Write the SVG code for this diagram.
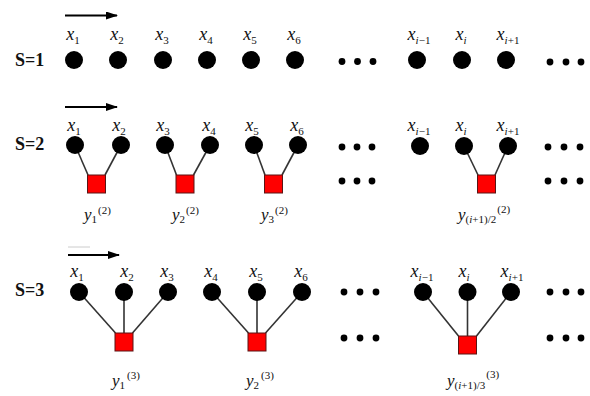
<svg xmlns="http://www.w3.org/2000/svg" width="590" height="396" viewBox="0 0 590 396">
  <defs>
    <style>
      .v { font-family: "Liberation Serif", "Times New Roman", serif; font-style: italic; font-size: 18px; fill: #111; }
      .yl { font-family: "Liberation Serif", "Times New Roman", serif; font-style: italic; font-size: 17px; fill: #111; }
      .sb { font-style: normal; font-size: 11px; }
      .it { font-style: italic; }
      .s { font-family: "Liberation Serif", "Times New Roman", serif; font-weight: bold; font-size: 18px; fill: #111; }
      .n { fill: #000; }
      .d { fill: #000; }
      .f { fill: #ff0000; stroke: #5a1414; stroke-width: 1; }
      .e { stroke: #333; stroke-width: 1.6; fill: none; }
      .arr { stroke: #000; stroke-width: 1.8; fill: none; marker-end: url(#head); }
    </style>
    <marker id="head" viewBox="0 0 12 8" refX="11" refY="4" markerWidth="12" markerHeight="8" markerUnits="userSpaceOnUse" orient="auto">
      <path d="M0,0 L12,4 L0,8 Z" fill="#000"/>
    </marker>
  </defs>
  <rect width="590" height="396" fill="#fff"/>

  <!-- direction arrows -->
  <g id="arrows">
    <line class="arr" x1="65" y1="15.5" x2="117" y2="15.5"/>
    <line class="arr" x1="65" y1="107" x2="117" y2="107"/>
    <line x1="68" y1="247" x2="90" y2="247" stroke="#ccc" stroke-width="1"/>
    <line class="arr" x1="68" y1="255" x2="119" y2="255"/>
  </g>

  <!-- row labels -->
  <g id="rowlabels">
    <text class="s" x="15" y="66">S=1</text>
    <text class="s" x="15" y="150">S=2</text>
    <text class="s" x="15" y="296">S=3</text>
  </g>

  <!-- connectors: variable nodes to check squares -->
  <g id="connectors">
    <line class="e" x1="75" y1="145" x2="88" y2="175"/>
    <line class="e" x1="121" y1="145" x2="105" y2="175"/>
    <line class="e" x1="165" y1="145" x2="176.5" y2="175"/>
    <line class="e" x1="210" y1="145" x2="193.5" y2="175"/>
    <line class="e" x1="254" y1="145" x2="265" y2="175"/>
    <line class="e" x1="298" y1="145" x2="282" y2="175"/>
    <line class="e" x1="464" y1="146" x2="478" y2="175"/>
    <line class="e" x1="508" y1="146" x2="495" y2="175"/>

    <line class="e" x1="79" y1="292" x2="115.5" y2="333"/>
    <line class="e" x1="124" y1="292" x2="124" y2="333"/>
    <line class="e" x1="168" y1="292" x2="132.5" y2="333"/>
    <line class="e" x1="212" y1="292" x2="248.5" y2="333"/>
    <line class="e" x1="257" y1="292" x2="257" y2="333"/>
    <line class="e" x1="302" y1="292" x2="265.5" y2="333"/>
    <line class="e" x1="423" y1="292" x2="458.5" y2="336"/>
    <line class="e" x1="467.5" y1="292" x2="467.5" y2="336"/>
    <line class="e" x1="511" y1="292" x2="476.5" y2="336"/>
  </g>

  <!-- S=1 -->
  <g id="s1">
    <g id="s1-x1"><circle class="n" cx="74" cy="60" r="9"/><text class="v" x="73" y="40" text-anchor="middle">x<tspan class="sb" dy="4">1</tspan></text></g>
    <g id="s1-x2"><circle class="n" cx="118" cy="60" r="9"/><text class="v" x="117" y="40" text-anchor="middle">x<tspan class="sb" dy="4">2</tspan></text></g>
    <g id="s1-x3"><circle class="n" cx="163" cy="60" r="9"/><text class="v" x="162" y="40" text-anchor="middle">x<tspan class="sb" dy="4">3</tspan></text></g>
    <g id="s1-x4"><circle class="n" cx="207" cy="60" r="9"/><text class="v" x="206" y="40" text-anchor="middle">x<tspan class="sb" dy="4">4</tspan></text></g>
    <g id="s1-x5"><circle class="n" cx="251" cy="60" r="9"/><text class="v" x="250" y="40" text-anchor="middle">x<tspan class="sb" dy="4">5</tspan></text></g>
    <g id="s1-x6"><circle class="n" cx="295" cy="60" r="9"/><text class="v" x="294" y="40" text-anchor="middle">x<tspan class="sb" dy="4">6</tspan></text></g>
    <g id="s1-dots1"><circle class="d" cx="342" cy="61.5" r="3.4"/><circle class="d" cx="357.5" cy="61.5" r="3.4"/><circle class="d" cx="373" cy="61.5" r="3.4"/></g>
    <g id="s1-xim1"><circle class="n" cx="417" cy="60" r="9"/><text class="v" x="419" y="40" text-anchor="middle">x<tspan class="sb" dy="4"><tspan class="it">i</tspan>−1</tspan></text></g>
    <g id="s1-xi"><circle class="n" cx="462" cy="60" r="9"/><text class="v" x="461" y="40" text-anchor="middle">x<tspan class="sb" dy="4"><tspan class="it">i</tspan></tspan></text></g>
    <g id="s1-xip1"><circle class="n" cx="506" cy="60" r="9"/><text class="v" x="508" y="40" text-anchor="middle">x<tspan class="sb" dy="4"><tspan class="it">i</tspan>+1</tspan></text></g>
    <g id="s1-dots2"><circle class="d" cx="550" cy="62" r="3.4"/><circle class="d" cx="566" cy="62" r="3.4"/><circle class="d" cx="581" cy="62" r="3.4"/></g>
  </g>

  <!-- S=2 -->
  <g id="s2">
    <g id="s2-x1"><circle class="n" cx="75" cy="145" r="9"/><text class="v" x="74" y="131" text-anchor="middle">x<tspan class="sb" dy="4">1</tspan></text></g>
    <g id="s2-x2"><circle class="n" cx="121" cy="145" r="9"/><text class="v" x="119" y="131" text-anchor="middle">x<tspan class="sb" dy="4">2</tspan></text></g>
    <g id="s2-x3"><circle class="n" cx="165" cy="145" r="9"/><text class="v" x="163" y="131" text-anchor="middle">x<tspan class="sb" dy="4">3</tspan></text></g>
    <g id="s2-x4"><circle class="n" cx="210" cy="145" r="9"/><text class="v" x="209" y="131" text-anchor="middle">x<tspan class="sb" dy="4">4</tspan></text></g>
    <g id="s2-x5"><circle class="n" cx="254" cy="145" r="9"/><text class="v" x="252" y="131" text-anchor="middle">x<tspan class="sb" dy="4">5</tspan></text></g>
    <g id="s2-x6"><circle class="n" cx="298" cy="145" r="9"/><text class="v" x="297" y="131" text-anchor="middle">x<tspan class="sb" dy="4">6</tspan></text></g>
    <g id="s2-y1"><rect class="f" x="87.5" y="175" width="18" height="18"/><text class="yl" x="84" y="220">y<tspan class="sb" dy="3">1</tspan><tspan class="sb" dx="1" dy="-9">(2)</tspan></text></g>
    <g id="s2-y2"><rect class="f" x="176" y="175" width="18" height="18"/><text class="yl" x="172" y="220">y<tspan class="sb" dy="3">2</tspan><tspan class="sb" dx="1" dy="-9">(2)</tspan></text></g>
    <g id="s2-y3"><rect class="f" x="264.5" y="175" width="18" height="18"/><text class="yl" x="261" y="220">y<tspan class="sb" dy="3">3</tspan><tspan class="sb" dx="1" dy="-9">(2)</tspan></text></g>
    <g id="s2-dots1"><circle class="d" cx="342" cy="147" r="3.4"/><circle class="d" cx="357" cy="147" r="3.4"/><circle class="d" cx="372" cy="147" r="3.4"/><circle class="d" cx="342" cy="181" r="3.4"/><circle class="d" cx="357" cy="181" r="3.4"/><circle class="d" cx="372" cy="181" r="3.4"/></g>
    <g id="s2-xim1"><circle class="n" cx="420" cy="146" r="9"/><text class="v" x="419" y="131" text-anchor="middle">x<tspan class="sb" dy="4"><tspan class="it">i</tspan>−1</tspan></text></g>
    <g id="s2-xi"><circle class="n" cx="464" cy="146" r="9"/><text class="v" x="461" y="131" text-anchor="middle">x<tspan class="sb" dy="4"><tspan class="it">i</tspan></tspan></text></g>
    <g id="s2-xip1"><circle class="n" cx="508" cy="146" r="9"/><text class="v" x="508" y="131" text-anchor="middle">x<tspan class="sb" dy="4"><tspan class="it">i</tspan>+1</tspan></text></g>
    <g id="s2-yk"><rect class="f" x="477.5" y="175" width="18" height="18"/><text class="yl" x="458" y="220">y<tspan class="sb" dy="3">(<tspan class="it">i</tspan>+1)/2</tspan><tspan class="sb" dx="1" dy="-10">(2)</tspan></text></g>
    <g id="s2-dots2"><circle class="d" cx="548" cy="147" r="3.4"/><circle class="d" cx="564" cy="147" r="3.4"/><circle class="d" cx="580" cy="147" r="3.4"/><circle class="d" cx="548" cy="181" r="3.4"/><circle class="d" cx="564" cy="181" r="3.4"/><circle class="d" cx="580" cy="181" r="3.4"/></g>
  </g>

  <!-- S=3 -->
  <g id="s3">
    <g id="s3-x1"><circle class="n" cx="79" cy="292" r="9"/><text class="v" x="77" y="277" text-anchor="middle">x<tspan class="sb" dy="4">1</tspan></text></g>
    <g id="s3-x2"><circle class="n" cx="124" cy="292" r="9"/><text class="v" x="127" y="277" text-anchor="middle">x<tspan class="sb" dy="4">2</tspan></text></g>
    <g id="s3-x3"><circle class="n" cx="168" cy="292" r="9"/><text class="v" x="167" y="277" text-anchor="middle">x<tspan class="sb" dy="4">3</tspan></text></g>
    <g id="s3-x4"><circle class="n" cx="212" cy="292" r="9"/><text class="v" x="211" y="277" text-anchor="middle">x<tspan class="sb" dy="4">4</tspan></text></g>
    <g id="s3-x5"><circle class="n" cx="257" cy="292" r="9"/><text class="v" x="256" y="277" text-anchor="middle">x<tspan class="sb" dy="4">5</tspan></text></g>
    <g id="s3-x6"><circle class="n" cx="302" cy="292" r="9"/><text class="v" x="301" y="277" text-anchor="middle">x<tspan class="sb" dy="4">6</tspan></text></g>
    <g id="s3-y1"><rect class="f" x="115" y="333" width="18" height="18"/><text class="yl" x="112" y="386">y<tspan class="sb" dy="3">1</tspan><tspan class="sb" dx="2" dy="-10">(3)</tspan></text></g>
    <g id="s3-y2"><rect class="f" x="248" y="333" width="18" height="18"/><text class="yl" x="246" y="386">y<tspan class="sb" dy="3">2</tspan><tspan class="sb" dx="2" dy="-10">(3)</tspan></text></g>
    <g id="s3-dots1"><circle class="d" cx="344" cy="292" r="3.4"/><circle class="d" cx="360" cy="292" r="3.4"/><circle class="d" cx="376" cy="292" r="3.4"/><circle class="d" cx="344" cy="338" r="3.4"/><circle class="d" cx="360" cy="338" r="3.4"/><circle class="d" cx="376" cy="338" r="3.4"/></g>
    <g id="s3-xim1"><circle class="n" cx="423" cy="292" r="9"/><text class="v" x="422" y="277" text-anchor="middle">x<tspan class="sb" dy="4"><tspan class="it">i</tspan>−1</tspan></text></g>
    <g id="s3-xi"><circle class="n" cx="467.5" cy="292" r="9"/><text class="v" x="464" y="277" text-anchor="middle">x<tspan class="sb" dy="4"><tspan class="it">i</tspan></tspan></text></g>
    <g id="s3-xip1"><circle class="n" cx="511" cy="292" r="9"/><text class="v" x="512" y="277" text-anchor="middle">x<tspan class="sb" dy="4"><tspan class="it">i</tspan>+1</tspan></text></g>
    <g id="s3-yk"><rect class="f" x="458.5" y="336" width="18" height="18"/><text class="yl" x="447" y="386">y<tspan class="sb" dy="3">(<tspan class="it">i</tspan>+1)/3</tspan><tspan class="sb" dx="1" dy="-11">(3)</tspan></text></g>
    <g id="s3-dots2"><circle class="d" cx="550" cy="292" r="3.4"/><circle class="d" cx="566" cy="292" r="3.4"/><circle class="d" cx="581" cy="292" r="3.4"/><circle class="d" cx="550" cy="338" r="3.4"/><circle class="d" cx="566" cy="338" r="3.4"/><circle class="d" cx="581" cy="338" r="3.4"/></g>
  </g>
</svg>
